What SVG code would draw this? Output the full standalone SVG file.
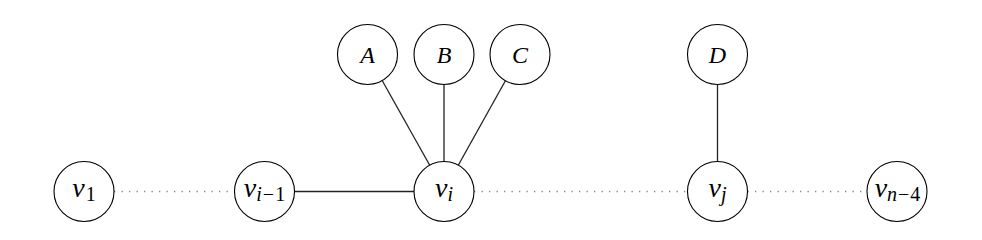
<svg xmlns="http://www.w3.org/2000/svg" width="982" height="240" viewBox="0 0 982 240">
<style>
.node circle{fill:#fff;stroke:#000;stroke-width:1.1}
text{font-family:"Liberation Serif","DejaVu Serif","Times New Roman",serif;font-size:24px;fill:#000;text-anchor:middle}
.i{font-style:italic}
.v{font-size:28px}
.s{font-size:20px}
.solid{stroke:#222;stroke-width:1.3;fill:none}
.dot{stroke:#888;stroke-width:1.3;stroke-dasharray:1.3 6.2;fill:none}
</style>
<rect width="982" height="240" fill="#fff"/>
<g id="connectors">
<line class="dot" x1="114" y1="191.5" x2="234.5" y2="191.5"/>
<line class="solid" x1="294.5" y1="191.5" x2="414" y2="191.5"/>
<line class="dot" x1="474" y1="191.5" x2="687.5" y2="191.5"/>
<line class="dot" x1="747.5" y1="191.5" x2="867" y2="191.5"/>
<line class="solid" x1="382.3" y1="80.7" x2="429.6" y2="165"/>
<line class="solid" x1="444" y1="84.5" x2="444" y2="161.5"/>
<line class="solid" x1="505.4" y1="80.7" x2="458.4" y2="165"/>
<line class="solid" x1="717.5" y1="84.5" x2="717.5" y2="161.5"/>
</g>
<g id="v1" class="node"><circle cx="84" cy="191.5" r="30"/><text x="84" y="197"><tspan class="i v">v</tspan><tspan class="s" dx="1" dy="4">1</tspan></text></g>
<g id="vim1" class="node"><circle cx="264.5" cy="191.5" r="30"/><text x="264.5" y="197"><tspan class="i v">v</tspan><tspan class="s i" dy="4">i</tspan><tspan class="s" dx="1">−</tspan><tspan class="s" dx="1">1</tspan></text></g>
<g id="vi" class="node"><circle cx="444" cy="191.5" r="30"/><text x="444" y="197"><tspan class="i v">v</tspan><tspan class="s i" dy="4">i</tspan></text></g>
<g id="vj" class="node"><circle cx="717.5" cy="191.5" r="30"/><text x="717.5" y="197"><tspan class="i v">v</tspan><tspan class="s i" dy="4">j</tspan></text></g>
<g id="vn4" class="node"><circle cx="897" cy="191.5" r="30"/><text x="897.5" y="197"><tspan class="i v">v</tspan><tspan class="s i" dy="4">n</tspan><tspan class="s" dx="1">−</tspan><tspan class="s" dx="1">4</tspan></text></g>
<g id="A" class="node"><circle cx="367.5" cy="54.5" r="30"/><text x="367.5" y="62.5" class="i">A</text></g>
<g id="B" class="node"><circle cx="444" cy="54.5" r="30"/><text x="444" y="62.5" class="i">B</text></g>
<g id="C" class="node"><circle cx="520" cy="54.5" r="30"/><text x="520" y="62.5" class="i">C</text></g>
<g id="D" class="node"><circle cx="717.5" cy="54.5" r="30"/><text x="717.5" y="62.5" class="i">D</text></g>
</svg>
